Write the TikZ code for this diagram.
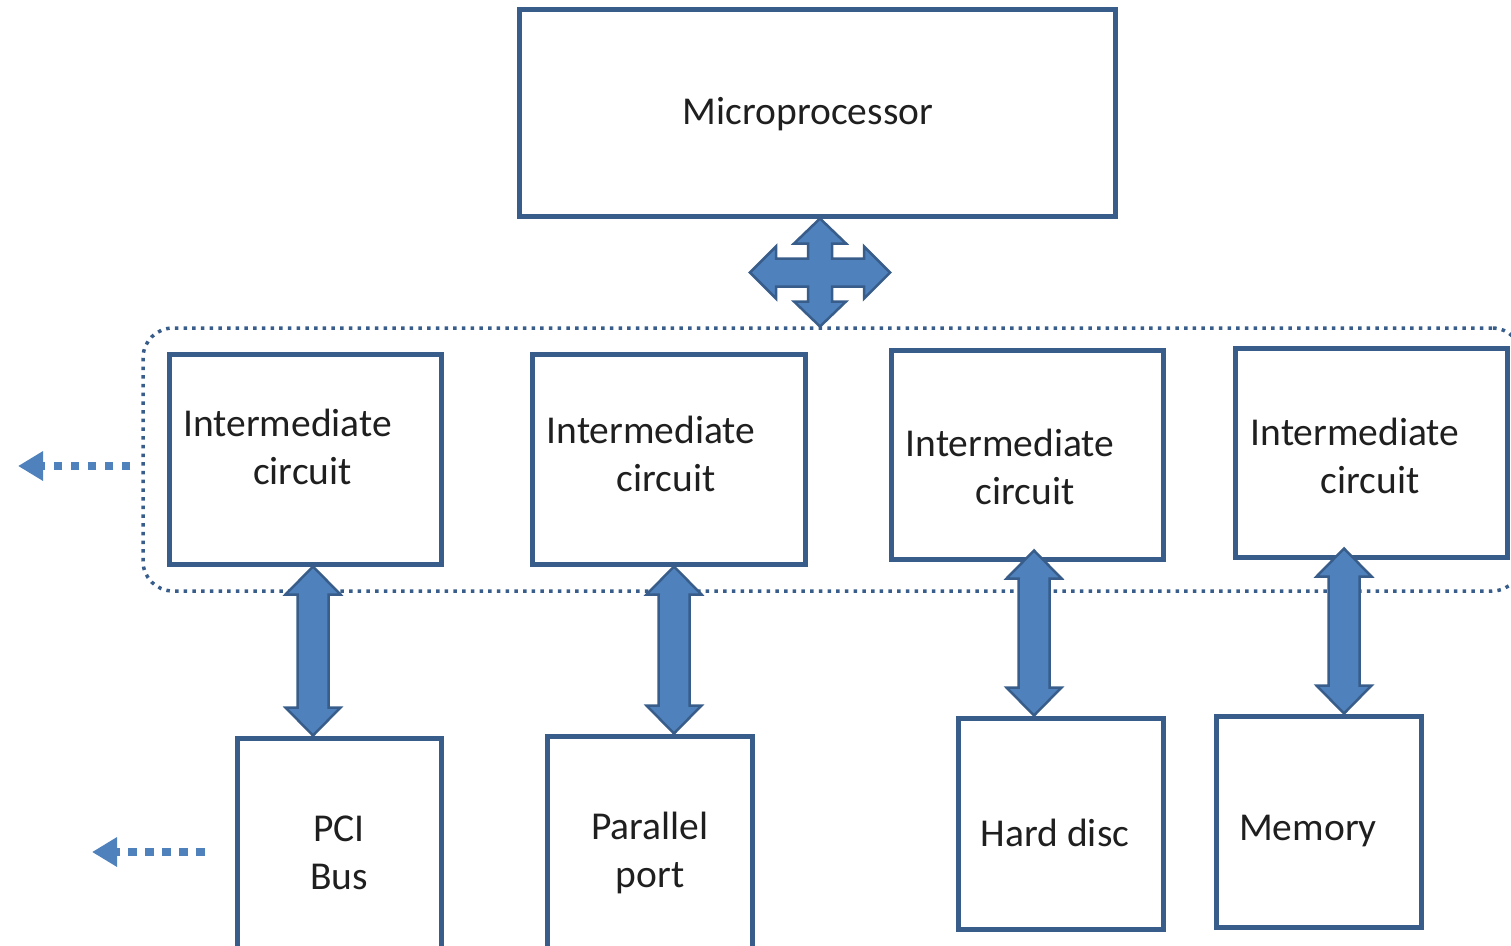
\documentclass[tikz,border=0pt]{standalone}
\usepackage{fontspec}
\setmainfont{Carlito}
\usetikzlibrary{arrows.meta,calc}
\definecolor{boxline}{RGB}{56,93,138}
\definecolor{busfill}{RGB}{79,129,189}

\tikzset{every node/.append style={font=\fontsize{39.5}{48}\selectfont}}

\begin{document}
\begin{tikzpicture}[x=1pt,y=-1pt,
  b/.style={draw=boxline,line width=5pt,inner sep=0pt},
  t/.style={align=center,text=black!88},
  grp/.style={draw=boxline,line width=3.5pt,dash pattern=on 3.5pt off 5.2pt,rounded corners=30pt},
  hint/.style={busfill,line width=8pt,dash pattern=on 8.5pt off 8.5pt,-{Triangle[length=25pt,width=28pt]}},
  vbus/.style={draw=boxline,fill=busfill,line width=2.5pt,line join=miter,
    to path={let \p1=(\tikztostart), \p2=(\tikztotarget) in
      (\x1,\y1) -- (\x1+27.5pt,\y1-28pt) -- (\x1+15.5pt,\y1-28pt) -- (\x1+15.5pt,\y2+28pt)
      -- (\x1+27.5pt,\y2+28pt) -- (\x1,\y2) -- (\x1-27.5pt,\y2+28pt) -- (\x1-15.5pt,\y2+28pt)
      -- (\x1-15.5pt,\y1-28pt) -- (\x1-27.5pt,\y1-28pt) -- cycle}}]
\useasboundingbox (0,0) rectangle (1511,945);

% dotted group round the four intermediate circuits
\node[grp,minimum width=1379pt,minimum height=263pt] (bus) at (832.5,459.5) {};

\node[b,minimum width=596pt,minimum height=207pt] (mp) at (817,112.5) {};
\node[b,minimum width=272pt,minimum height=210pt] (ic1) at (305,459) {};
\node[b,minimum width=273pt,minimum height=210pt] (ic2) at (668.5,459) {};
\node[b,minimum width=272pt,minimum height=209pt] (ic3) at (1027,454.5) {};
\node[b,minimum width=272pt,minimum height=209pt] (ic4) at (1371,452.5) {};
\node[b,minimum width=204pt,minimum height=222pt] (pci) at (339,849) {};
\node[b,minimum width=205pt,minimum height=222pt] (par) at (649.5,847) {};
\node[b,minimum width=205pt,minimum height=211pt] (hd) at (1060.5,823.5) {};
\node[b,minimum width=205pt,minimum height=211pt] (mem) at (1318.5,821.5) {};

\node[t] (mpt) at (808,114) {Microprocessor};
\node[t] (ic1t) at (295,447) {Intermediate\hspace*{15pt}\\\hspace*{15pt}circuit};
\node[t] (ic2t) at (658.5,454) {Intermediate\hspace*{15pt}\\\hspace*{15pt}circuit};
\node[t] (ic3t) at (1017.5,467) {Intermediate\hspace*{15pt}\\\hspace*{15pt}circuit};
\node[t] (ic4t) at (1362.5,456) {Intermediate\hspace*{15pt}\\\hspace*{15pt}circuit};
\node[t] (pcit) at (339,853) {PCI\\Bus};
\node[t] (part) at (650,853) {Parallel\\port};
\node[t] (hdt) at (1055,833) {Hard disc};
\node[t] (memt) at (1308,831) {Memory};

% block arrows
\draw[vbus] (ic1.south -| 313,0) to (pci.north -| 313,0);
\draw[vbus] (ic2.south -| 674,0) to (par.north -| 674,0);
\draw[vbus] ([yshift=11pt]ic3.south -| 1034,0) to (hd.north -| 1034,0);
\draw[vbus] ([yshift=11pt]ic4.south -| 1344,0) to (mem.north -| 1344,0);

\coordinate (hub) at (mp.south -| 820,0);
\draw[draw=boxline,fill=busfill,line width=2.5pt,line join=miter,shift={(hub)},yshift=-54pt]
  (0,-54) -- (26,-29) -- (12,-29) -- (12,-14) -- (44,-14) -- (44,-26) -- (70,0)
  -- (44,26) -- (44,14) -- (12,14) -- (12,29) -- (26,29) -- (0,54) -- (-26,29)
  -- (-12,29) -- (-12,14) -- (-44,14) -- (-44,26) -- (-70,0) -- (-44,-26)
  -- (-44,-14) -- (-12,-14) -- (-12,-29) -- (-26,-29) -- cycle;

% dotted hints to the left
\coordinate (out1) at (18,466);
\coordinate (out2) at (92,852);
\draw[hint] ([xshift=-11pt]bus.west |- out1) -- (out1);
\draw[hint] ([xshift=-30pt]pci.west |- out2) -- (out2);
\end{tikzpicture}
\end{document}
